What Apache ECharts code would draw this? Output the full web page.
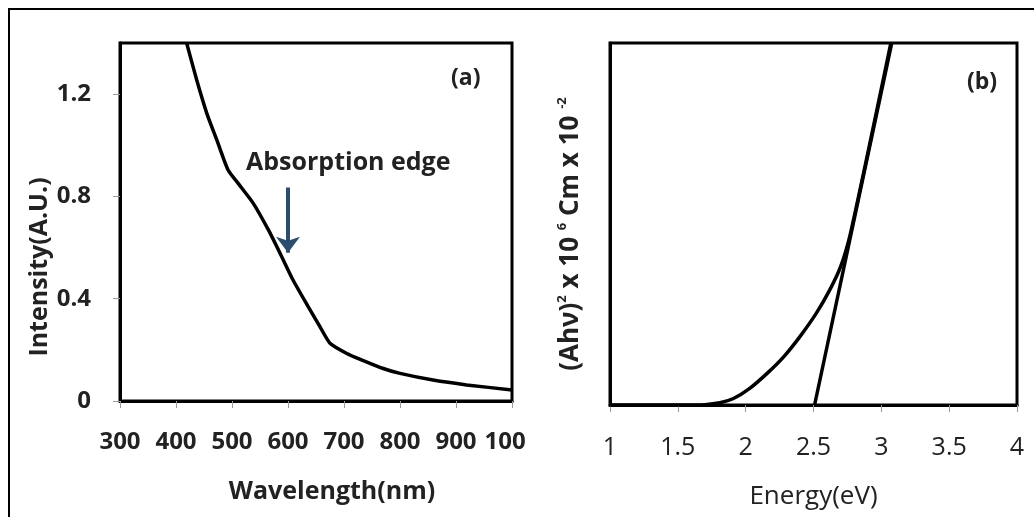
<!DOCTYPE html>
<html>
<head>
<meta charset="utf-8">
<script src="https://cdn.jsdelivr.net/npm/echarts@6/dist/echarts.min.js"></script>
<style>html,body{margin:0;padding:0;background:#fff;}#c{width:1034px;height:517px;}</style>
</head>
<body>
<div id="c"></div>
<script>
// Panel (a): absorption spectrum
const wavelength = [419, 437, 455, 473, 493, 511, 538, 565, 586, 609, 636, 657, 675, 705, 729, 770, 800, 859, 919, 1000];
const intensity  = [1.40, 1.255, 1.125, 1.02, 0.903, 0.851, 0.773, 0.669, 0.577, 0.473, 0.369, 0.291, 0.226, 0.186, 0.163, 0.127, 0.108, 0.082, 0.063, 0.043];
const xTicksA = [300, 400, 500, 600, 700, 800, 900, 1000];
const yTicksA = [0, 0.4, 0.8, 1.2];
// Panel (b): Tauc plot
const energy = [1.0, 1.5, 1.7, 1.81, 1.91, 2.03, 2.16, 2.28, 2.40, 2.52, 2.62, 2.70, 2.77, 2.88, 2.97, 3.07];
const tauc   = [0, 0, 0.01, 0.06, 0.18, 0.46, 0.88, 1.33, 1.89, 2.53, 3.18, 3.82, 4.70, 6.60, 8.20, 10.0];
const fitEnergy = [2.508, 3.077];
const fitValue  = [0, 10];
const xTicksB = [1, 1.5, 2, 2.5, 3, 3.5, 4];
// Arrow annotation (data coords)
const arrowX = 600, arrowFrom = 0.835, arrowTo = 0.58;

const pairs = (xs, ys) => xs.map((x, i) => [x, ys[i]]);
const F = 'Open Sans, sans-serif';

const chart = echarts.init(document.getElementById('c'), null, {renderer: 'canvas'});
chart.setOption({
  animation: false,
  backgroundColor: '#fff',
  grid: [
    {left: 120, top: 43, width: 392, height: 358, show: true, borderColor: '#000', borderWidth: 3, backgroundColor: 'transparent'},
    {left: 610, top: 43, width: 407, height: 362, show: true, borderColor: '#000', borderWidth: 3, backgroundColor: 'transparent'}
  ],
  xAxis: [
    {
      gridIndex: 0, type: 'value', min: xTicksA[0], max: xTicksA[xTicksA.length - 1], interval: 100,
      name: 'Wavelength(nm)', nameLocation: 'middle', nameGap: 78,
      nameTextStyle: {fontFamily: F, fontWeight: 'bold', fontSize: 25, color: '#222', padding: [0, 0, 0, 32]},
      axisLine: {show: true, onZero: false, lineStyle: {color: '#000', width: 3}},
      axisTick: {show: true, length: 7, lineStyle: {color: '#999', width: 1}},
      axisLabel: {margin: 29, fontFamily: F, fontWeight: 'bold', fontSize: 24, color: '#222', showMaxLabel: true, showMinLabel: true,
        formatter: v => String(v)},
      splitLine: {show: false}
    },
    {
      gridIndex: 1, type: 'value', min: xTicksB[0], max: xTicksB[xTicksB.length - 1], interval: 0.5,
      name: 'Energy(eV)', nameLocation: 'middle', nameGap: 79,
      nameTextStyle: {fontFamily: F, fontSize: 26, color: '#222'},
      axisLine: {show: true, onZero: false, lineStyle: {color: '#000', width: 3}},
      axisTick: {show: true, length: 7, lineStyle: {color: '#999', width: 1}},
      axisLabel: {margin: 30, fontFamily: F, fontSize: 25, color: '#222', formatter: v => String(v)},
      splitLine: {show: false}
    }
  ],
  yAxis: [
    {
      gridIndex: 0, type: 'value', min: 0, max: 1.4, interval: 0.4,
      name: 'Intensity(A.U.)', nameLocation: 'middle', nameGap: 67, nameRotate: 90,
      nameTextStyle: {fontFamily: F, fontWeight: 'bold', fontSize: 25, color: '#222', padding: [0, 90, 0, 0]},
      axisLine: {show: true, onZero: false, lineStyle: {color: '#000', width: 3}},
      axisTick: {show: true, length: 7, lineStyle: {color: '#999', width: 1}},
      axisLabel: {margin: 29, fontFamily: F, fontWeight: 'bold', fontSize: 24, color: '#222', showMaxLabel: false,
        formatter: v => (yTicksA.indexOf(+v.toFixed(1)) >= 0 ? String(+v.toFixed(1)) : '')},
      splitLine: {show: false}
    },
    {
      gridIndex: 1, type: 'value', min: 0, max: 10,
      name: '{n|(Ahν)}{s|2}{n| x 10 }{s|6}{n| Cm x 10 }{s|-2}', nameLocation: 'middle', nameGap: 24, nameRotate: 90,
      nameTextStyle: {
        fontFamily: F, fontWeight: 'bold', fontSize: 26, color: '#222', padding: [0, 20, 0, 0],
        rich: {
          n: {fontFamily: F, fontWeight: 'bold', fontSize: 26, color: '#222', lineHeight: 30},
          s: {fontFamily: F, fontWeight: 'bold', fontSize: 13, color: '#222', verticalAlign: 'top', lineHeight: 30, padding: [0, 0, 12, 0]}
        }
      },
      axisLine: {show: true, onZero: false, lineStyle: {color: '#000', width: 3}},
      axisTick: {show: false},
      axisLabel: {show: false},
      splitLine: {show: false}
    }
  ],
  series: [
    {
      type: 'line', xAxisIndex: 0, yAxisIndex: 0, data: pairs(wavelength, intensity),
      showSymbol: false, smooth: 0.2, lineStyle: {color: '#000', width: 3.5}, clip: true, z: 3,
      markLine: {
        silent: true, animation: false, symbolSize: [18, 16],
        label: {show: false},
        lineStyle: {color: '#2C4D6E', width: 4, type: 'solid'},
        data: [[{coord: [arrowX, arrowFrom], symbol: 'none'}, {coord: [arrowX, arrowTo], symbol: 'arrow'}]]
      }
    },
    {
      type: 'line', xAxisIndex: 1, yAxisIndex: 1, data: pairs(energy, tauc),
      showSymbol: false, smooth: 0.2, lineStyle: {color: '#000', width: 3.5}, clip: true
    },
    {
      type: 'line', xAxisIndex: 1, yAxisIndex: 1, data: pairs(fitEnergy, fitValue),
      showSymbol: false, lineStyle: {color: '#000', width: 3.5}, clip: true
    }
  ],
  graphic: [
    {type: 'rect', shape: {x: 9, y: 9, width: 1100, height: 600}, style: {fill: 'none', stroke: '#000', lineWidth: 2}, z: 100, silent: true},
    {type: 'rect', shape: {x: 526, y: 422, width: 50, height: 40}, style: {fill: '#fff'}, z: 90, silent: true},
    {type: 'text', left: 246, top: 150, style: {text: 'Absorption edge', fontFamily: F, fontWeight: 'bold', fontSize: 25, fill: '#222'}, z: 50},
    {type: 'text', left: 451, top: 67, style: {text: '(a)', fontFamily: F, fontWeight: 'bold', fontSize: 23, fill: '#222'}, z: 50},
    {type: 'text', left: 967, top: 71, style: {text: '(b)', fontFamily: F, fontWeight: 'bold', fontSize: 23, fill: '#222'}, z: 50}
  ]
});
</script>
</body>
</html>
